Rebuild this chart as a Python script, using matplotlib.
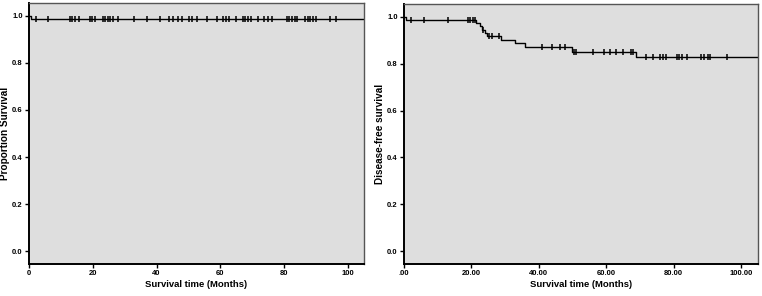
#!/usr/bin/env python3

import numpy as np
import matplotlib.pyplot as plt

# Overall survival (left panel): step times and survival after each step
os_step_times = [0.0, 0.6]
os_step_surv = [1.0, 0.986]
os_censored = [2.2, 5.9, 12.9, 13.6, 14.4, 15.8, 19.1, 19.9, 20.8, 23.1, 23.8,
               24.7, 25.5, 26.4, 28.0, 33.0, 36.9, 41.1, 43.9, 45.2, 46.6, 47.9,
               50.2, 51.0, 52.6, 55.7, 58.8, 60.9, 61.8, 62.6, 64.9, 67.0, 67.8,
               68.7, 69.5, 71.9, 73.7, 75.0, 76.1, 80.8, 81.6, 82.5, 83.3, 84.1,
               86.5, 87.4, 88.2, 89.0, 89.9, 94.4, 96.1]
os_end = 105

# Disease-free survival (right panel)
dfs_step_times = [0.0, 0.6, 21.4, 22.4, 23.2, 24.0, 24.6, 28.9, 33.0, 36.0, 49.9, 68.8]
dfs_step_surv = [1.0, 0.986, 0.973, 0.960, 0.946, 0.932, 0.917, 0.902, 0.887,
                 0.870, 0.852, 0.830]
dfs_censored = [2.1, 6.0, 13.1, 19.0, 19.7, 20.4, 21.0, 23.5, 25.2, 26.2, 28.2,
                40.9, 44.0, 46.2, 47.8, 50.4, 51.1, 56.0, 59.2, 61.0, 62.9, 64.9,
                67.2, 67.8, 71.8, 74.0, 75.9, 76.7, 77.7, 80.9, 81.7, 82.6, 83.9,
                88.1, 89.1, 90.1, 90.9, 95.9]
dfs_end = 105

y_ticks = [0.0, 0.2, 0.4, 0.6, 0.8, 1.0]
y_tick_labels = ['0.0', '0.2', '0.4', '0.6', '0.8', '1.0']
x_ticks = [0, 20, 40, 60, 80, 100]
x_labels_left = ['0', '20', '40', '60', '80', '100']
x_labels_right = ['.00', '20.00', '40.00', '60.00', '80.00', '100.00']

plt.rcParams['font.family'] = ['Liberation Sans', 'DejaVu Sans']
plt.rcParams['font.weight'] = 'bold'


def surv_at(t, times, surv):
    """Value of the step function at time t."""
    idx = np.searchsorted(times, t, side='right') - 1
    return np.array(surv)[idx]


def draw_km(ax, times, surv, censored, end, xlabels, ylabel, ylab_x):
    t = list(times) + [end]
    s = list(surv) + [surv[-1]]
    ax.step(t, s, where='post', color='black', lw=1.0)
    ax.plot(censored, surv_at(censored, times, surv), linestyle='none',
            marker='|', markersize=4.5, markeredgewidth=1.1, color='black')

    ax.set_facecolor('#dedede')
    ax.set_xlim(0, 105)
    ax.set_ylim(-0.055, 1.055)
    ax.set_xticks(x_ticks)
    ax.set_xticklabels(xlabels)
    ax.set_yticks(y_ticks)
    ax.set_yticklabels(y_tick_labels)
    ax.tick_params(direction='out', length=3, width=1, labelsize=5.5, pad=1.5,
                   color='black')
    ax.set_xlabel('Survival time (Months)', fontsize=6.8, fontweight='bold')
    ax.xaxis.set_label_coords(0.5, -0.062)
    ax.set_ylabel(ylabel, fontsize=7.2, fontweight='bold')
    ax.yaxis.set_label_coords(ylab_x, 0.5)
    for side in ['left', 'bottom']:
        ax.spines[side].set_linewidth(1.4)
        ax.spines[side].set_color('black')
    for side in ['top', 'right']:
        ax.spines[side].set_linewidth(1.0)
        ax.spines[side].set_color('#555555')


fig = plt.figure(figsize=(7.62, 2.96), dpi=100)
ax1 = fig.add_axes([29 / 762, 32 / 296, 335 / 762, 261 / 296])
ax2 = fig.add_axes([404 / 762, 32 / 296, 354 / 762, 260 / 296])

draw_km(ax1, os_step_times, os_step_surv, os_censored, os_end,
        x_labels_left, 'Proportion Survival', -0.058)
draw_km(ax2, dfs_step_times, dfs_step_surv, dfs_censored, dfs_end,
        x_labels_right, 'Disease-free survival', -0.053)

fig.savefig('out.png', dpi=100)
